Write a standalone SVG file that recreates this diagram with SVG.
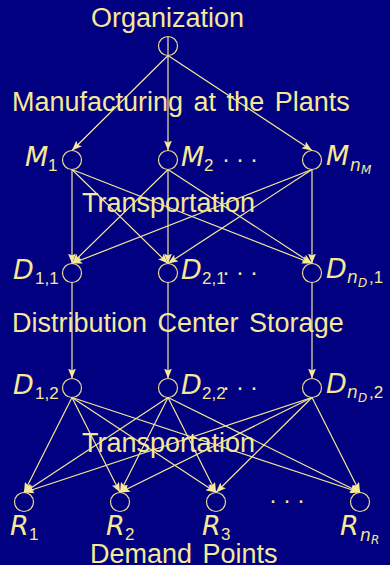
<svg xmlns="http://www.w3.org/2000/svg" width="390" height="565" viewBox="0 0 390 565">
  <defs>
    <style>
      .bg { fill: #000080; }
      .lbl { font-family: "Liberation Sans", Arial, sans-serif; font-size: 27px; fill: #f6e896; word-spacing: 3px; }
      .mi { font-family: "DejaVu Sans", sans-serif; font-size: 27px; font-style: italic; fill: #f6e896; }
      .sub { font-family: "Liberation Sans", Arial, sans-serif; font-size: 17px; fill: #f6e896; }
      .subi { font-family: "DejaVu Sans", sans-serif; font-size: 17px; font-style: italic; fill: #f6e896; }
      .subsub { font-family: "DejaVu Sans", sans-serif; font-size: 12px; font-style: italic; fill: #f6e896; }
      .dots { font-family: "Liberation Sans", Arial, sans-serif; font-size: 24px; fill: #f6e896; }
      .node { fill: none; stroke: #e8da8e; stroke-width: 1.2; }
      .edge { fill: none; stroke: #f6e896; stroke-width: 1.2; marker-end: url(#ah); }
    </style>
    <marker id="ah" viewBox="0 0 10 8" refX="10" refY="4" markerWidth="10" markerHeight="8" markerUnits="userSpaceOnUse" orient="auto">
      <path d="M0,0 L10,4 L0,8 L2,4 z" fill="#f6e896"/>
    </marker>
  </defs>

  <rect class="bg" x="0" y="0" width="390" height="565"/>

  <!-- stage captions -->
  <g id="captions">
    <text class="lbl" x="91" y="27">Organization</text>
    <text class="lbl" x="12" y="111">Manufacturing at the Plants</text>
    <text class="lbl" x="82" y="212">Transportation</text>
    <text class="lbl" x="12" y="332">Distribution Center Storage</text>
    <text class="lbl" x="82" y="452">Transportation</text>
    <text class="lbl" x="90" y="563">Demand Points</text>
  </g>

  <!-- connectors -->
  <g id="connectors">
    <!-- organization to plants -->
    <line class="edge" x1="168" y1="55.5" x2="72" y2="150.5"/>
    <line class="edge" x1="168" y1="36.5" x2="168" y2="150.5"/>
    <line class="edge" x1="168" y1="55.5" x2="312" y2="150.5"/>
    <!-- plants to distribution centers -->
    <line class="edge" x1="72" y1="169.5" x2="72" y2="263.5"/>
    <line class="edge" x1="72" y1="169.5" x2="168" y2="263.5"/>
    <line class="edge" x1="72" y1="169.5" x2="312" y2="263.5"/>
    <line class="edge" x1="168" y1="169.5" x2="72" y2="263.5"/>
    <line class="edge" x1="168" y1="169.5" x2="168" y2="263.5"/>
    <line class="edge" x1="168" y1="169.5" x2="312" y2="263.5"/>
    <line class="edge" x1="312" y1="169.5" x2="72" y2="263.5"/>
    <line class="edge" x1="312" y1="169.5" x2="168" y2="263.5"/>
    <line class="edge" x1="312" y1="169.5" x2="312" y2="263.5"/>
    <!-- storage -->
    <line class="edge" x1="72" y1="282.5" x2="72" y2="378.5"/>
    <line class="edge" x1="168" y1="282.5" x2="168" y2="378.5"/>
    <line class="edge" x1="312" y1="282.5" x2="312" y2="378.5"/>
    <!-- distribution centers to demand points -->
    <line class="edge" x1="72" y1="397.5" x2="24" y2="492.5"/>
    <line class="edge" x1="72" y1="397.5" x2="120" y2="492.5"/>
    <line class="edge" x1="72" y1="397.5" x2="216" y2="492.5"/>
    <line class="edge" x1="72" y1="397.5" x2="360" y2="492.5"/>
    <line class="edge" x1="168" y1="397.5" x2="24" y2="492.5"/>
    <line class="edge" x1="168" y1="397.5" x2="120" y2="492.5"/>
    <line class="edge" x1="168" y1="397.5" x2="216" y2="492.5"/>
    <line class="edge" x1="168" y1="397.5" x2="360" y2="492.5"/>
    <line class="edge" x1="312" y1="397.5" x2="24" y2="492.5"/>
    <line class="edge" x1="312" y1="397.5" x2="120" y2="492.5"/>
    <line class="edge" x1="312" y1="397.5" x2="216" y2="492.5"/>
    <line class="edge" x1="312" y1="397.5" x2="360" y2="492.5"/>
  </g>

  <!-- nodes -->
  <g id="org"><circle class="node" cx="168" cy="46" r="9.5"/></g>

  <g id="m1">
    <circle class="node" cx="72" cy="160" r="9.5"/>
    <text class="mi" x="25" y="166">M</text><text class="sub" x="48" y="171">1</text>
  </g>
  <g id="m2">
    <circle class="node" cx="168" cy="160" r="9.5"/>
    <text class="mi" x="181" y="166">M</text><text class="sub" x="204" y="171">2</text>
    <text class="dots" x="222 236 250" y="167">···</text>
  </g>
  <g id="mn">
    <circle class="node" cx="312" cy="160" r="9.5"/>
    <text class="mi" x="326" y="165">M</text><text class="subi" x="350" y="171">n</text><text class="subsub" x="361" y="174">M</text>
  </g>

  <g id="d11">
    <circle class="node" cx="72" cy="273" r="9.5"/>
    <text class="mi" x="13" y="279">D</text><text class="sub" x="35" y="284">1,1</text>
  </g>
  <g id="d21">
    <circle class="node" cx="168" cy="273" r="9.5"/>
    <text class="mi" x="181" y="279">D</text><text class="sub" x="202" y="284">2,1</text>
    <text class="dots" x="222 236 250" y="280">···</text>
  </g>
  <g id="dn1">
    <circle class="node" cx="312" cy="273" r="9.5"/>
    <text class="mi" x="326" y="278">D</text><text class="subi" x="347" y="283">n</text><text class="subsub" x="358" y="287">D</text><text class="sub" x="369" y="283">,1</text>
  </g>

  <g id="d12">
    <circle class="node" cx="72" cy="388" r="9.5"/>
    <text class="mi" x="13" y="393.5">D</text><text class="sub" x="35" y="398.5">1,2</text>
  </g>
  <g id="d22">
    <circle class="node" cx="168" cy="388" r="9.5"/>
    <text class="mi" x="181" y="393.5">D</text><text class="sub" x="202" y="398.5">2,2</text>
    <text class="dots" x="222 236 250" y="394.5">···</text>
  </g>
  <g id="dn2">
    <circle class="node" cx="312" cy="388" r="9.5"/>
    <text class="mi" x="326" y="393">D</text><text class="subi" x="347" y="398">n</text><text class="subsub" x="358" y="402">D</text><text class="sub" x="369" y="398">,2</text>
  </g>

  <g id="r1">
    <circle class="node" cx="24" cy="502" r="9.5"/>
    <text class="mi" x="10" y="535">R</text><text class="sub" x="29" y="540">1</text>
  </g>
  <g id="r2">
    <circle class="node" cx="120" cy="502" r="9.5"/>
    <text class="mi" x="106" y="535">R</text><text class="sub" x="125" y="540">2</text>
  </g>
  <g id="r3">
    <circle class="node" cx="216" cy="502" r="9.5"/>
    <text class="mi" x="202" y="535">R</text><text class="sub" x="221" y="540">3</text>
  </g>
  <g id="rdots"><text class="dots" x="269 283 297" y="508">···</text></g>
  <g id="rn">
    <circle class="node" cx="360" cy="502" r="9.5"/>
    <text class="mi" x="340" y="535">R</text><text class="subi" x="360" y="541">n</text><text class="subsub" x="371" y="544">R</text>
  </g>
</svg>
